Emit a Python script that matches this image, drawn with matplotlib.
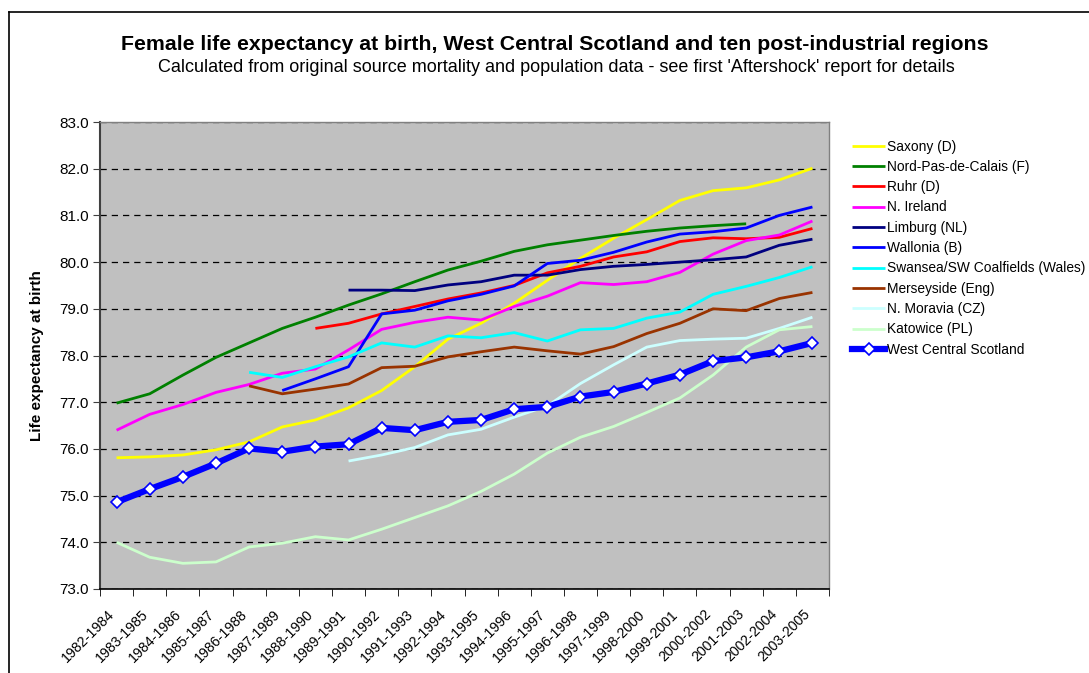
import matplotlib.pyplot as plt
import numpy as np
from matplotlib.lines import Line2D
from matplotlib.transforms import ScaledTranslation

plt.rcParams['font.family'] = ['Liberation Sans', 'DejaVu Sans']

nan = np.nan

# Category labels (three-year periods)
periods = ['1982-1984', '1983-1985', '1984-1986', '1985-1987', '1986-1988', '1987-1989',
           '1988-1990', '1989-1991', '1990-1992', '1991-1993', '1992-1994', '1993-1995',
           '1994-1996', '1995-1997', '1996-1998', '1997-1999', '1998-2000', '1999-2001',
           '2000-2002', '2001-2003', '2002-2004', '2003-2005']

# Female life expectancy values
saxony = [75.81, 75.83, 75.87, 75.98, 76.15, 76.47, 76.62, 76.88, 77.25, 77.76, 78.35,
          78.69, 79.12, 79.61, 80.08, 80.51, 80.91, 81.32, 81.53, 81.59, 81.76, 82.01]
nord_pas_de_calais = [76.98, 77.18, 77.58, 77.96, 78.27, 78.58, 78.82, 79.08, 79.32, 79.58, 79.83,
                      80.02, 80.23, 80.37, 80.47, 80.57, 80.66, 80.73, 80.78, 80.82, nan, nan]
ruhr = [nan, nan, nan, nan, nan, nan, 78.58, 78.69, 78.89, 79.05, 79.21,
        79.34, 79.50, 79.77, 79.91, 80.11, 80.22, 80.44, 80.52, 80.50, 80.53, 80.72]
n_ireland = [76.40, 76.74, 76.95, 77.21, 77.38, 77.62, 77.71, 78.12, 78.56, 78.71, 78.82,
             78.76, 79.05, 79.27, 79.56, 79.52, 79.58, 79.78, 80.17, 80.46, 80.58, 80.88]
limburg = [nan, nan, nan, nan, nan, nan, nan, 79.40, 79.40, 79.39, 79.51,
           79.58, 79.72, 79.72, 79.84, 79.91, 79.95, 80.00, 80.05, 80.11, 80.36, 80.49]
wallonia = [nan, nan, nan, nan, nan, 77.25, 77.50, 77.76, 78.89, 78.97, 79.17,
            79.31, 79.49, 79.97, 80.04, 80.21, 80.43, 80.60, 80.65, 80.73, 81.00, 81.18]
swansea = [nan, nan, nan, nan, 77.64, 77.53, 77.76, 77.97, 78.27, 78.18, 78.42,
           78.38, 78.49, 78.31, 78.55, 78.58, 78.80, 78.93, 79.31, 79.48, 79.67, 79.90]
merseyside = [nan, nan, nan, nan, 77.35, 77.18, 77.28, 77.39, 77.74, 77.77, 77.97,
              78.08, 78.18, 78.10, 78.03, 78.19, 78.47, 78.69, 79.00, 78.96, 79.22, 79.35]
n_moravia = [nan, nan, nan, nan, nan, nan, nan, 75.74, 75.87, 76.03, 76.30,
             76.42, 76.68, 76.92, 77.40, 77.80, 78.18, 78.32, 78.35, 78.37, 78.58, 78.82]
katowice = [74.00, 73.68, 73.55, 73.58, 73.90, 73.98, 74.12, 74.05, 74.28, 74.53, 74.78,
            75.09, 75.46, 75.91, 76.25, 76.48, 76.78, 77.09, 77.58, 78.18, 78.55, 78.62]
west_central_scotland = [74.86, 75.14, 75.40, 75.69, 76.01, 75.94, 76.05, 76.10, 76.45, 76.40, 76.58,
                         76.62, 76.85, 76.90, 77.12, 77.22, 77.40, 77.59, 77.88, 77.96, 78.09, 78.27]

series = [
    ('Saxony (D)', saxony, '#ffff00'),
    ('Nord-Pas-de-Calais (F)', nord_pas_de_calais, '#008000'),
    ('Ruhr (D)', ruhr, '#ff0000'),
    ('N. Ireland', n_ireland, '#ff00ff'),
    ('Limburg (NL)', limburg, '#000080'),
    ('Wallonia (B)', wallonia, '#0000ff'),
    ('Swansea/SW Coalfields (Wales)', swansea, '#00ffff'),
    ('Merseyside (Eng)', merseyside, '#993300'),
    ('N. Moravia (CZ)', n_moravia, '#ccffff'),
    ('Katowice (PL)', katowice, '#ccffcc'),
]

fig = plt.figure(figsize=(10.89, 6.73), dpi=100)
ax = fig.add_axes([100 / 1089, 1 - 589 / 673, 729 / 1089, 467 / 673])
ax.set_facecolor('#c0c0c0')

x = np.arange(len(periods))
handles = []
for name, vals, col in series:
    ln, = ax.plot(x, vals, color=col, lw=2.0, solid_capstyle='butt', label=name)
    handles.append(ln)

wcs, = ax.plot(x, west_central_scotland, color='#0000ff', lw=4.5, marker='D', ms=6.5,
               mfc='white', mec='#0000ff', mew=1.2, label='West Central Scotland', zorder=5)
handles.append(wcs)

ax.set_xlim(-0.5, len(periods) - 0.5)
ax.set_ylim(73, 83)
ax.set_yticks(np.arange(73, 83.1, 1))
ax.set_yticklabels([f'{v:.1f}' for v in np.arange(73, 83.1, 1)], fontsize=11)
ax.yaxis.grid(True, color='black', linestyle=(0, (5, 4)), linewidth=0.9)
ax.set_axisbelow(True)

ax.set_xticks(x)
ax.set_xticklabels(periods, rotation=45, ha='right', rotation_mode='anchor', fontsize=10.2)
ax.set_xticks(np.arange(-0.5, len(periods), 1), minor=True)
ax.tick_params(axis='x', which='major', length=0, pad=8)
ax.tick_params(axis='x', which='minor', length=5, direction='out', color='black')
ax.tick_params(axis='y', length=5, direction='out', color='#404040', pad=3)
shift = ScaledTranslation(-0.09, -0.07, fig.dpi_scale_trans)
for lab in ax.get_xticklabels():
    lab.set_transform(lab.get_transform() + shift)

for side in ['top', 'right']:
    ax.spines[side].set_color('#808080')
    ax.spines[side].set_linewidth(1.0)
ax.spines['left'].set_color('#404040')
ax.spines['left'].set_linewidth(1.5)
ax.spines['bottom'].set_color('black')
ax.spines['bottom'].set_linewidth(1.2)

ax.set_ylabel('Life expectancy at birth', fontsize=11, fontweight='bold', labelpad=11)

fig.text(555 / 1089, 1 - 45 / 673, "Female life expectancy at birth, West Central Scotland and ten post-industrial regions",
         ha='center', va='center', fontsize=15.3, fontweight='bold')
fig.text(556 / 1089, 1 - 68 / 673, "Calculated from original source mortality and population data - see first 'Aftershock' report for details",
         ha='center', va='center', fontsize=13)

leg = fig.legend(handles=handles, loc='upper left', bbox_to_anchor=(846.5 / 1089, 1 - 134 / 673),
                 frameon=False, fontsize=9.9, handlelength=2.4, handletextpad=0.15,
                 labelspacing=0.46, borderaxespad=0)

# outer frame lines (left and top edges)
fig.add_artist(Line2D([9 / 1089, 9 / 1089], [0, 1 - 12 / 673], transform=fig.transFigure,
                      color='black', lw=1.2))
fig.add_artist(Line2D([9 / 1089, 1], [1 - 12 / 673, 1 - 12 / 673], transform=fig.transFigure,
                      color='black', lw=1.2))

fig.savefig('out.png', dpi=100)
